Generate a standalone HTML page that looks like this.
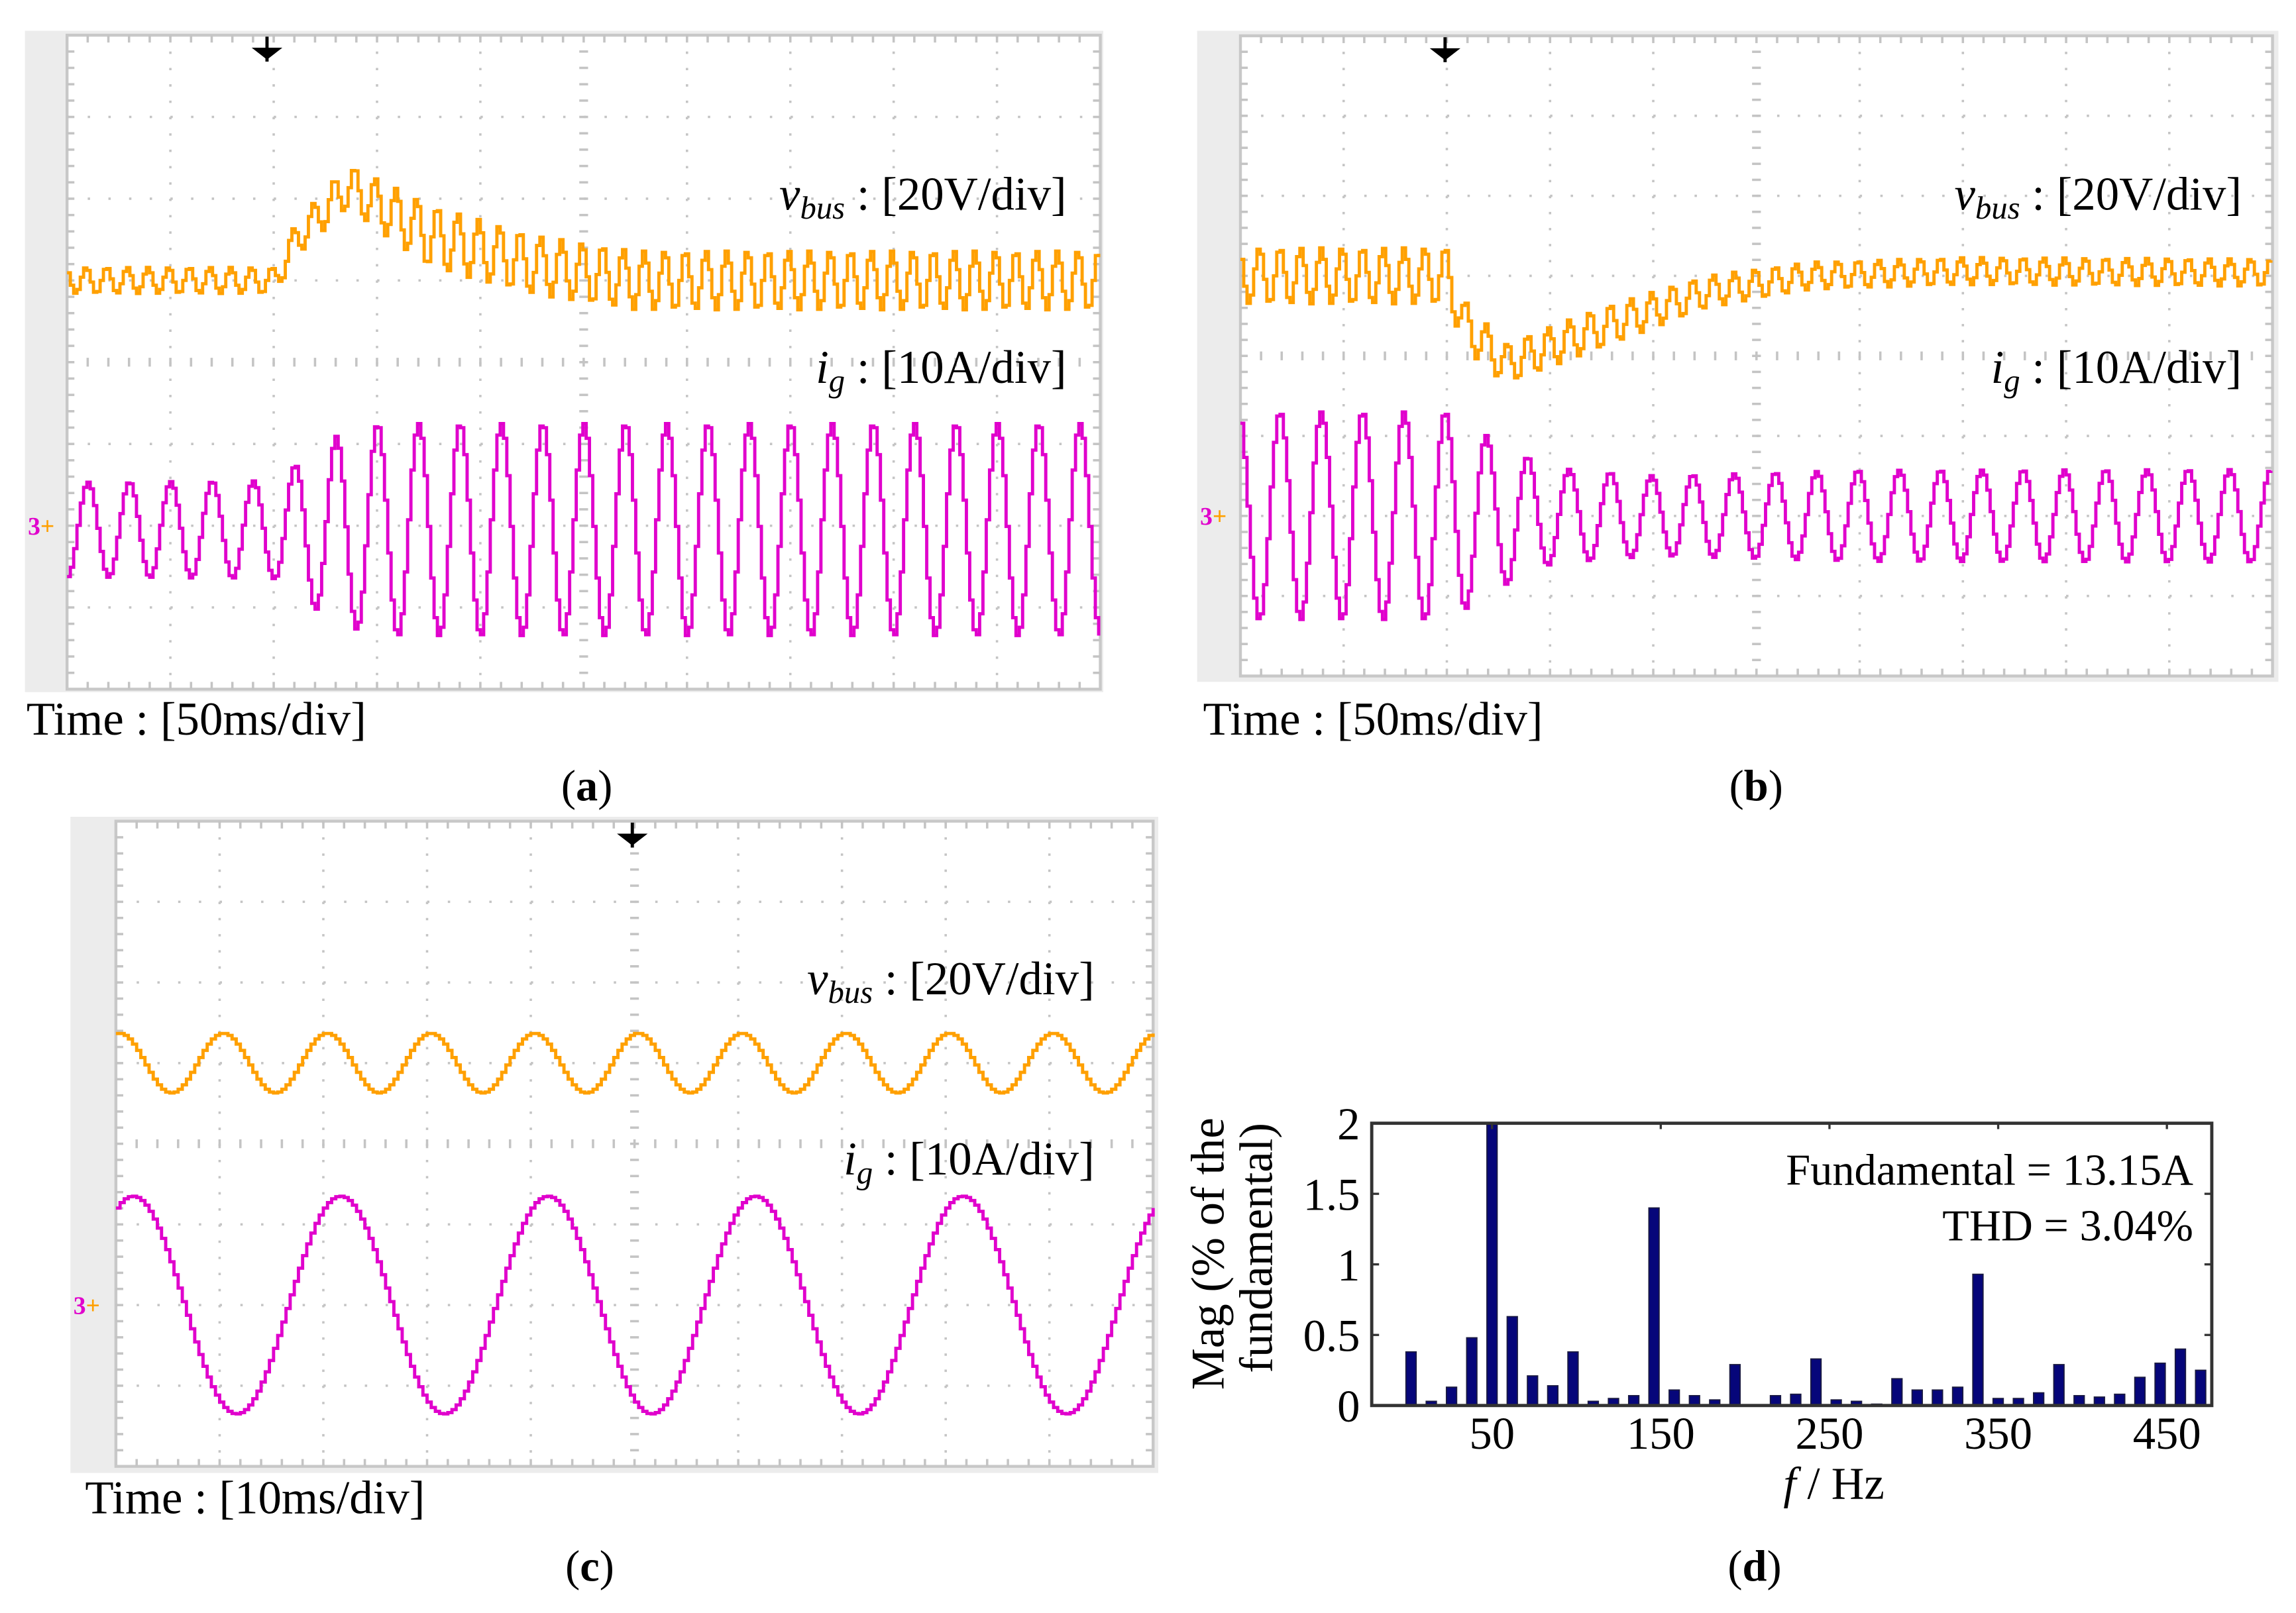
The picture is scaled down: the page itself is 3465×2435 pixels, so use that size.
<!DOCTYPE html>
<html><head><meta charset="utf-8"><style>
html,body{margin:0;padding:0;background:#fff}
svg{display:block}
text{font-family:"Liberation Serif",serif;fill:#000}
</style></head><body>
<svg id="fig" width="3465" height="2435" viewBox="0 0 1565 1100" preserveAspectRatio="none" xmlns="http://www.w3.org/2000/svg">
<defs><clipPath id="clipD"><rect x="935" y="766" width="573" height="193"/></clipPath></defs>
<g id="pa"></g>
<g id="pb"></g>
<g id="pc"></g>
<g id="pd"></g>
<text x="400" y="546" font-size="30" text-anchor="middle">(<tspan font-weight="bold">a</tspan>)</text>
<text x="1197" y="546" font-size="30" text-anchor="middle">(<tspan font-weight="bold">b</tspan>)</text>
<text x="402" y="1078" font-size="30" text-anchor="middle">(<tspan font-weight="bold">c</tspan>)</text>
<text x="1196" y="1078" font-size="30" text-anchor="middle">(<tspan font-weight="bold">d</tspan>)</text>
</svg>
<script>
// ---- Panel (a) data (division units) ----
const aVbusKnotX = [0, 2, 2.2, 2.7, 3.5, 4.5, 5.5, 10];
const aVbusCenter = [3.0, 3.0, 2.5, 1.85, 2.46, 2.81, 3.0, 3.0];
const aVbusAmp = [0.16, 0.16, 0.2, 0.27, 0.38, 0.36, 0.36, 0.36];
const aIgKnotX = [0, 2, 2.3, 2.6, 3.0, 10];
const aIgAmp = [0.58, 0.6, 0.9, 1.15, 1.3, 1.3];
// ---- Panel (b) data ----
const bVbusKnotX = [0, 2, 2.15, 2.55, 3.5, 4.5, 5.5, 7, 10];
const bVbusCenter = [3.0, 3.0, 3.6, 4.1, 3.64, 3.2, 3.0, 2.94, 2.96];
const bVbusAmp = [0.35, 0.35, 0.3, 0.25, 0.25, 0.2, 0.17, 0.17, 0.17];
const bIgKnotX = [0, 2, 2.5, 3.0, 4.0, 6, 10];
const bIgAmp = [1.3, 1.3, 0.9, 0.6, 0.5, 0.57, 0.58];
// ---- Panel (c) data ----
const cVbusKnotX = [0, 10];
const cVbusCenter = [3.0, 3.0];
const cVbusAmp = [0.37, 0.37];
const cIgKnotX = [0, 10];
const cIgAmp = [1.35, 1.35];
// ---- Panel (d) data ----
const dFreqs = [2,14,26,38,50,62,74,86,98,110,122,134,146,158,170,182,194,206,218,230,242,254,266,278,290,302,314,326,338,350,362,374,386,398,410,422,434,446,458,470,482];
const dMags = [0.38,0.03,0.13,0.48,2.3,0.63,0.21,0.14,0.38,0.03,0.05,0.07,1.40,0.11,0.07,0.04,0.29,0,0.07,0.08,0.33,0.04,0.03,0.01,0.19,0.11,0.11,0.13,0.93,0.05,0.05,0.09,0.29,0.07,0.06,0.08,0.20,0.30,0.40,0.25,0.16];
const dYTicks = [0, 0.5, 1, 1.5, 2];
const dYTickLabels = ["0", "0.5", "1", "1.5", "2"];
const dXTicks = [50, 150, 250, 350, 450];
const dXTickLabels = ["50", "150", "250", "350", "450"];

const NS = "http://www.w3.org/2000/svg";
function mk(tag, attrs, parent) {
  const e = document.createElementNS(NS, tag);
  for (const k in attrs) e.setAttribute(k, attrs[k]);
  parent.appendChild(e);
  return e;
}
function interp(xs, ys, x) {
  if (x <= xs[0]) return ys[0];
  for (let i = 1; i < xs.length; i++) {
    if (x <= xs[i]) { const t = (x - xs[i-1]) / (xs[i] - xs[i-1]); return ys[i-1] + t * (ys[i] - ys[i-1]); }
  }
  return ys[ys.length - 1];
}

function scope(g, cfg) {
  const {ox, oy, ow, oh, gx, gy, gw, gh} = cfg;
  const dx = gw / 10, dy = gh / 8;
  const bg = mk("rect", {x: ox, y: oy, width: ow, height: oh, fill: "#ececec"}, g);
  
  
  const plot = mk("rect", {x: gx, y: gy, width: gw, height: gh, fill: "#fff", stroke: "#c8c8c8", "stroke-width": 2}, g);
  
  
  const grid = mk("g", {stroke: "#c4c4c4", "stroke-width": 1.6, fill: "none"}, g);
  
  
  for (let i = 1; i < 10; i++) {
    if (i === 5) continue;
    mk("line", {x1: gx + i*dx, y1: gy, x2: gx + i*dx, y2: gy + gh, "stroke-dasharray": "1.6 " + (dy/5 - 1.6).toFixed(2)}, grid);
  }
  for (let j = 1; j < 8; j++) {
    if (j === 4) continue;
    mk("line", {x1: gx, y1: gy + j*dy, x2: gx + gw, y2: gy + j*dy, "stroke-dasharray": "1.6 " + (dx/5 - 1.6).toFixed(2)}, grid);
  }
  const cx = gx + 5*dx, cy = gy + 4*dy;
  for (let k = 1; k < 50; k++) {
    const x = gx + k*dx/5;
    mk("line", {x1: x, y1: cy - 3, x2: x, y2: cy + 3}, grid);
    mk("line", {x1: x, y1: gy, x2: x, y2: gy + 5}, grid);
    mk("line", {x1: x, y1: gy + gh - 5, x2: x, y2: gy + gh}, grid);
  }
  for (let k = 1; k < 40; k++) {
    const y = gy + k*dy/5;
    mk("line", {x1: cx - 3, y1: y, x2: cx + 3, y2: y}, grid);
    mk("line", {x1: gx, y1: y, x2: gx + 5, y2: y}, grid);
    mk("line", {x1: gx + gw - 5, y1: y, x2: gx + gw, y2: y}, grid);
  }
  function trace(fn, color, step, name) {
    let d = "";
    let prevY = null;
    for (let t = 0; t <= 10.0001; t += step) {
      const X = gx + Math.min(t, 10) * dx;
      const Y = gy + fn(t) * dy;
      if (prevY === null) d += "M" + X.toFixed(2) + " " + Y.toFixed(2);
      else d += "H" + X.toFixed(2) + "V" + Y.toFixed(2);
      prevY = Y;
    }
    const p = mk("path", {d: d, fill: "none", stroke: color, "stroke-width": 2.2}, g);
    
    
  }
  trace(cfg.vbus, "#ffa000", cfg.step, "vbus-trace");
  trace(cfg.ig, "#e000cc", cfg.step, "ig-trace");
  const tr = mk("g", {fill: "#000", stroke: "#000"}, g);
  
  
  mk("line", {x1: cfg.trigX, y1: gy + 1, x2: cfg.trigX, y2: gy + 18, "stroke-width": 2.2}, tr);
  mk("path", {d: `M${cfg.trigX-9} ${gy+9}H${cfg.trigX+9}L${cfg.trigX} ${gy+16}Z`, "stroke-width": 1}, tr);
  const cm = mk("text", {x: ox + 2, y: gy + 6*dy + 6, "font-size": 17, "font-family": "Liberation Mono, monospace", "font-weight": "bold"}, g);
  
  
  cm.innerHTML = '<tspan fill="#e000cc">3</tspan><tspan fill="#ffa000">+</tspan>';
  const t1 = mk("text", {x: cfg.lblX, y: cfg.vLblY, "font-size": 32, "text-anchor": "end"}, g);
  
  
  t1.innerHTML = '<tspan font-style="italic">v</tspan><tspan font-style="italic" font-size="22" dy="6">bus</tspan><tspan dy="-6"> : [20V/div]</tspan>';
  const t2 = mk("text", {x: cfg.lblX, y: cfg.iLblY, "font-size": 32, "text-anchor": "end"}, g);
  
  
  t2.innerHTML = '<tspan font-style="italic">i</tspan><tspan font-style="italic" font-size="22" dy="6">g</tspan><tspan dy="-6"> : [10A/div]</tspan>';
  const t3 = mk("text", {x: cfg.timeX, y: cfg.timeY, "font-size": 32}, g);
  
  
  t3.textContent = cfg.timeText;
}

const TAU = Math.PI * 2;
scope(document.getElementById("pa"), {
  ox: 17, oy: 21, ow: 735, oh: 451, gx: 45.7, gy: 24, gw: 704.3, gh: 446, step: 0.032,
  vbus: t => interp(aVbusKnotX, aVbusCenter, t) - interp(aVbusKnotX, aVbusAmp, t) * Math.cos(TAU * 5 * (t - 0.17)),
  ig: t => 6.05 - interp(aIgKnotX, aIgAmp, t) * Math.cos(TAU * 2.5 * (t - 0.19)),
  trigX: 182, lblX: 727, vLblY: 143, iLblY: 261, timeX: 18, timeY: 501, timeText: "Time : [50ms/div]"
});
scope(document.getElementById("pb"), {
  ox: 816, oy: 21, ow: 737, oh: 444, gx: 845.5, gy: 24.4, gw: 703.5, gh: 436.6, step: 0.032,
  vbus: t => interp(bVbusKnotX, bVbusCenter, t) - interp(bVbusKnotX, bVbusAmp, t) * Math.cos(TAU * 5 * (t - 0.17)),
  ig: t => 6.0 - interp(bIgKnotX, bIgAmp, t) * Math.cos(TAU * 2.5 * (t - 0.37)),
  trigX: 985, lblX: 1528, vLblY: 143, iLblY: 261, timeX: 820, timeY: 501, timeText: "Time : [50ms/div]"
});
scope(document.getElementById("pc"), {
  ox: 48, oy: 557, ow: 741.5, oh: 447.5, gx: 79, gy: 560, gw: 707, gh: 440, step: 0.04,
  vbus: t => interp(cVbusKnotX, cVbusCenter, t) - interp(cVbusKnotX, cVbusAmp, t) * Math.cos(TAU * 1 * (t - 1.02)),
  ig: t => 6.0 - interp(cIgKnotX, cIgAmp, t) * Math.cos(TAU * 0.5 * (t - 0.15)),
  trigX: 431, lblX: 746, vLblY: 678, iLblY: 801, timeX: 58, timeY: 1032, timeText: "Time : [10ms/div]"
});

(function(){
  const g = document.getElementById("pd");
  const L = 935, R = 1507.6, T = 766, B = 958.5;
  const xScale = f => 1017 + (f - 50) * 1.15;
  const yScale = v => B - (v / 2) * (B - T);
  const bars = mk("g", {"clip-path": "url(#clipD)"}, g);
  
  
  for (let i = 0; i < dFreqs.length; i++) {
    const x = xScale(dFreqs[i]);
    const y = yScale(dMags[i]);
    const r = mk("rect", {x: x - 3.5, y: y, width: 7, height: Math.max(0, B - y), fill: "#06067a", stroke: "#1a1a40", "stroke-width": 0.8}, bars);
    
    
  }
  const box = mk("rect", {x: L, y: T, width: R - L, height: B - T, fill: "none", stroke: "#333", "stroke-width": 2.2}, g);
  
  
  for (let i = 0; i < dYTicks.length; i++) {
    const y = yScale(dYTicks[i]);
    mk("line", {x1: L, y1: y, x2: L + 5, y2: y, stroke: "#333", "stroke-width": 1.5}, g);
    mk("line", {x1: R - 5, y1: y, x2: R, y2: y, stroke: "#333", "stroke-width": 1.5}, g);
    const t = mk("text", {x: 927, y: y + 11, "font-size": 31, "text-anchor": "end"}, g);
    
    
    t.textContent = dYTickLabels[i];
  }
  for (let i = 0; i < dXTicks.length; i++) {
    const x = xScale(dXTicks[i]);
    mk("line", {x1: x, y1: T, x2: x, y2: T + 4, stroke: "#333", "stroke-width": 1.5}, g);
    const t = mk("text", {x: x, y: 988, "font-size": 31, "text-anchor": "middle"}, g);
    
    
    t.textContent = dXTickLabels[i];
  }
  const xt = mk("text", {x: 1250, y: 1022, "font-size": 31, "text-anchor": "middle"}, g);
  
  
  xt.innerHTML = '<tspan font-style="italic">f</tspan> / Hz';
  const yt = mk("text", {transform: "translate(834,855) rotate(-90)", "font-size": 32, "text-anchor": "middle"}, g);
  
  
  yt.textContent = "Mag (% of the";
  const yt2 = mk("text", {transform: "translate(867,851) rotate(-90)", "font-size": 32, "text-anchor": "middle"}, g);
  
  
  yt2.textContent = "fundamental)";
  const a1 = mk("text", {x: 1495, y: 808, "font-size": 30, "text-anchor": "end"}, g);
  
  
  a1.textContent = "Fundamental = 13.15A";
  const a2 = mk("text", {x: 1495, y: 846, "font-size": 30, "text-anchor": "end"}, g);
  
  
  a2.setAttribute('xml:space', 'preserve');
  a2.textContent = "THD =  3.04%";
})();
</script>
</body></html>
